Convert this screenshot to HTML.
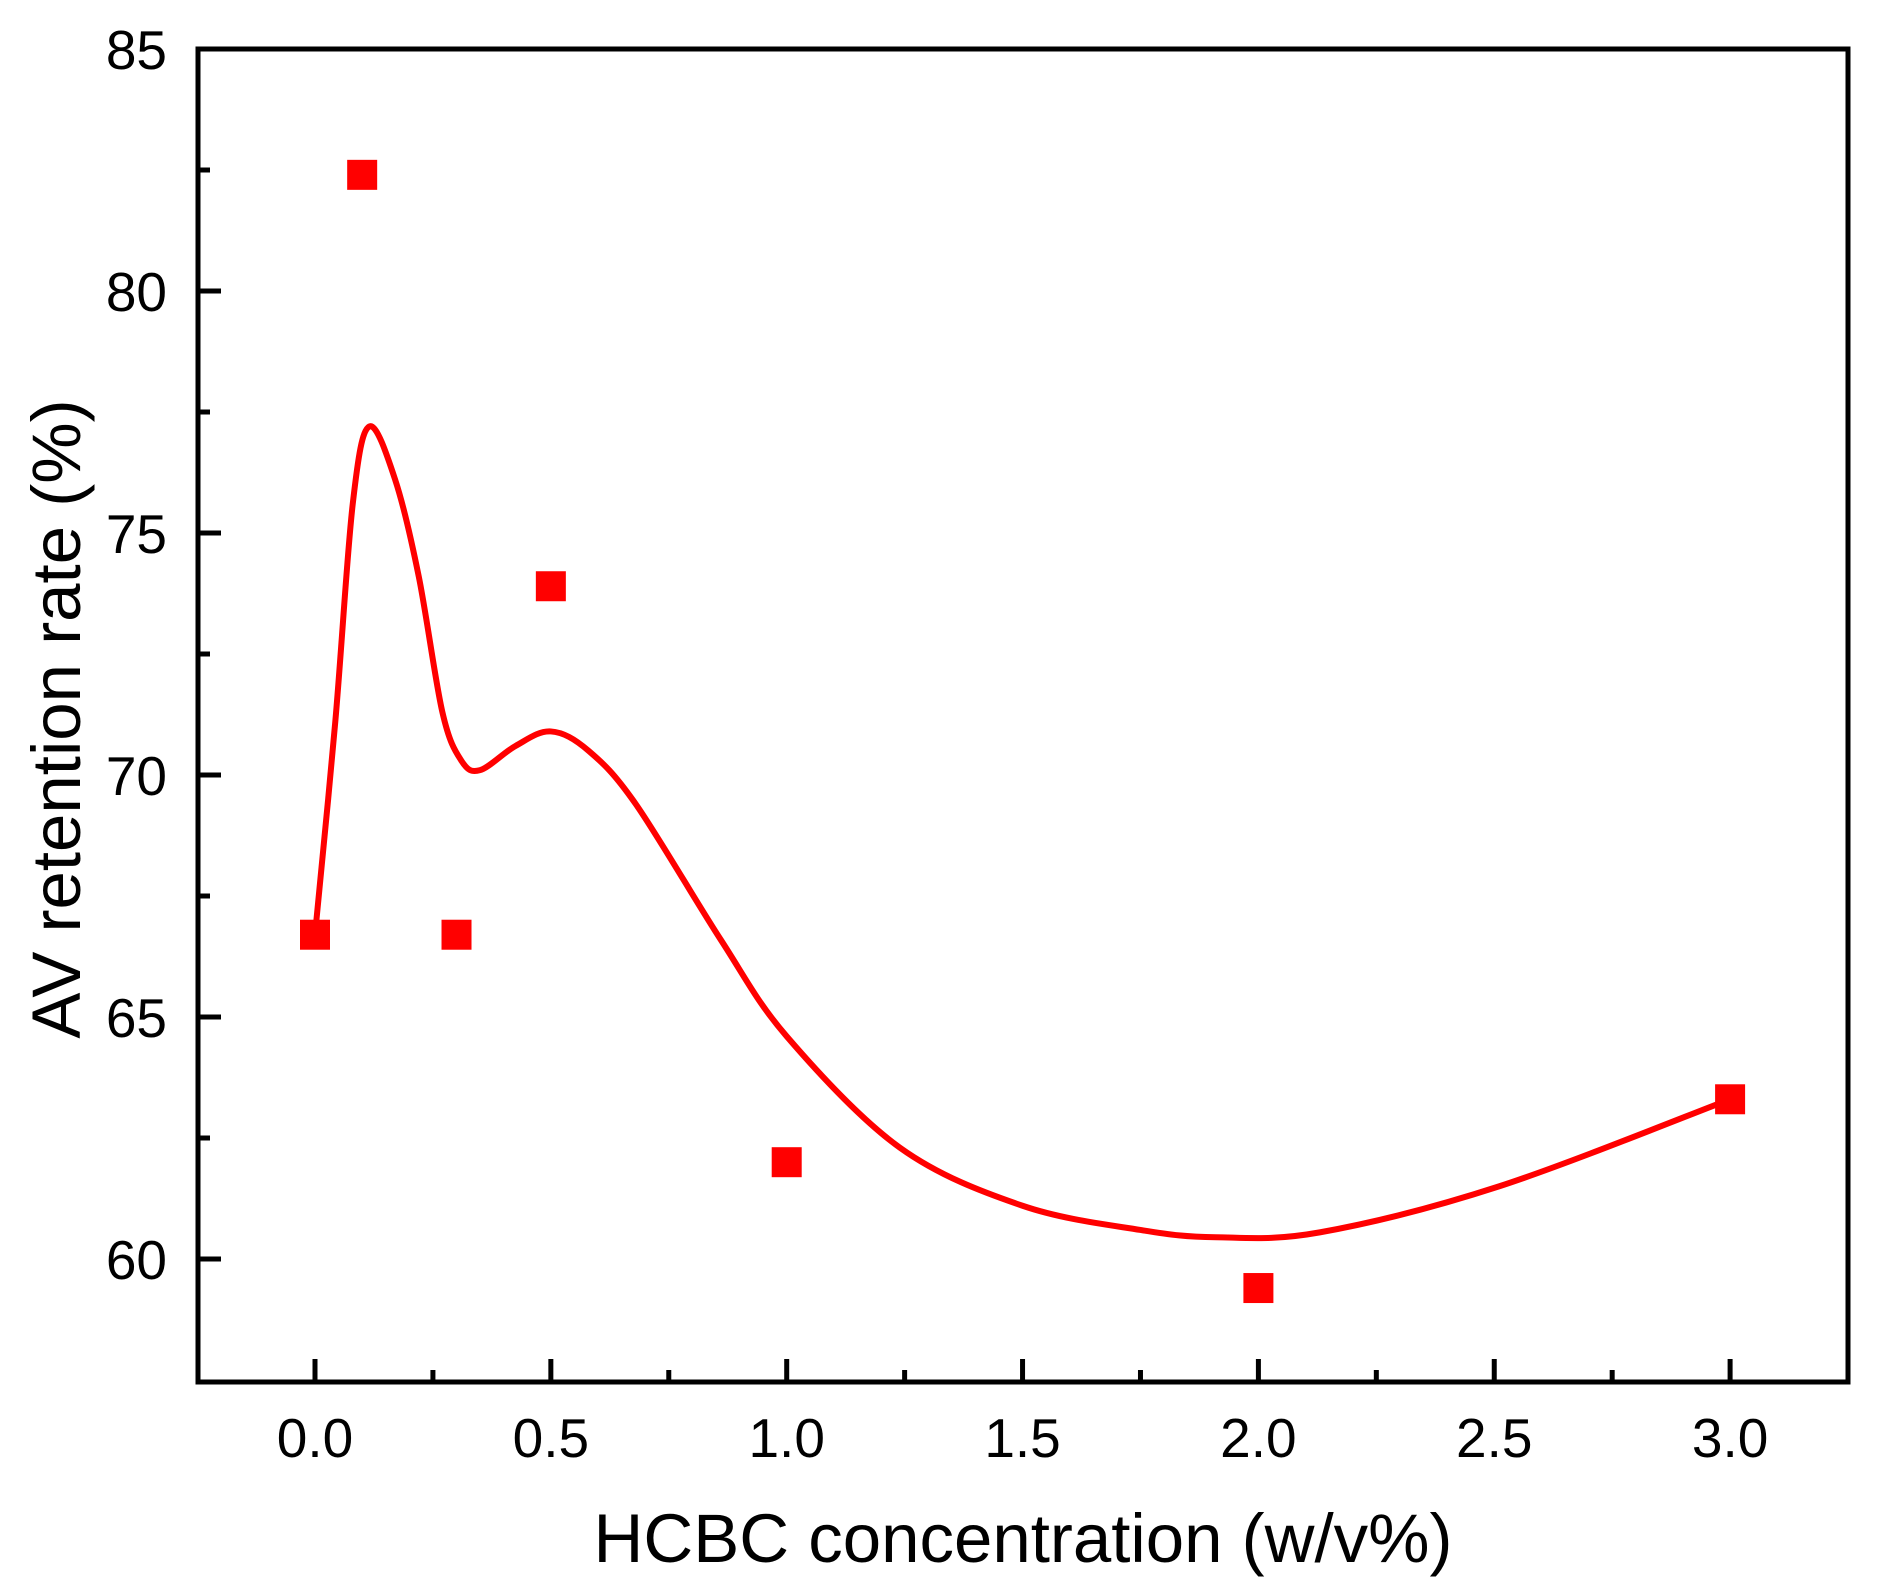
<!DOCTYPE html>
<html><head><meta charset="utf-8"><style>
html,body{margin:0;padding:0;background:#fff;}
svg{display:block;}
text{font-family:"Liberation Sans",Arial,sans-serif;fill:#000;}
</style></head><body>
<svg id="chart" width="1881" height="1593" viewBox="0 0 1881 1593" xmlns="http://www.w3.org/2000/svg">
<g id="plot"></g>
</svg>
<script>
const xTicks = [0.0, 0.5, 1.0, 1.5, 2.0, 2.5, 3.0];
const xTickLabels = ["0.0","0.5","1.0","1.5","2.0","2.5","3.0"];
const yTicks = [60, 65, 70, 75, 80, 85];
const yTickLabels = ["60","65","70","75","80","85"];
const pointX = [0, 0.1, 0.3, 0.5, 1.0, 2.0, 3.0];
const pointY = [66.7, 82.4, 66.7, 73.9, 62.0, 59.4, 63.3];
const curveX = [0, 0.043, 0.08, 0.115, 0.17, 0.22, 0.27, 0.31, 0.35, 0.425, 0.5, 0.58, 0.68, 0.86, 1.0, 1.24, 1.5, 1.75, 1.91, 2.13, 2.51, 3.0];
const curveY = [66.7, 71.1, 75.6, 77.2, 76.1, 74.1, 71.3, 70.3, 70.1, 70.6, 70.9, 70.5, 69.4, 66.6, 64.6, 62.3, 61.1, 60.6, 60.45, 60.55, 61.5, 63.3];

const L=198,R=1848,T=49,B=1382;
const yMin=57.5,yMax=85;
function sx(v){return 315+(v-0)*471.7;}
function sy(v){return 49+(85-v)*48.4;}
const NS="http://www.w3.org/2000/svg";
const g=document.getElementById('plot');
function mk(tag,attrs,parent){const e=document.createElementNS(NS,tag);for(const k in attrs)e.setAttribute(k,attrs[k]);(parent||g).appendChild(e);return e;}
const SW=5;
xTicks.forEach((v,i)=>{
  const t=mk('line',{x1:sx(v),x2:sx(v),y1:B,y2:B-23,stroke:'#000','stroke-width':SW});
  
  
  if(i<xTicks.length-1){
    const m=mk('line',{x1:sx(v+0.25),x2:sx(v+0.25),y1:B,y2:B-12,stroke:'#000','stroke-width':SW});
    
    
  }
  const tx=mk('text',{x:sx(v),y:1457,'text-anchor':'middle','font-size':55});
  tx.textContent=xTickLabels[i];
  
  
});
yTicks.forEach((v,i)=>{
  const t=mk('line',{x1:L,x2:L+23,y1:sy(v),y2:sy(v),stroke:'#000','stroke-width':SW});
  
  
  if(v+2.5<yMax){
    const m=mk('line',{x1:L,x2:L+12,y1:sy(v+2.5),y2:sy(v+2.5),stroke:'#000','stroke-width':SW});
    
    
  }
  const tx=mk('text',{x:167,y:sy(v)+20,'text-anchor':'end','font-size':55});
  tx.textContent=yTickLabels[i];
  
  
});

let pts=curveX.map((x,i)=>[sx(x),sy(curveY[i])]);
let d='M'+pts[0][0]+','+pts[0][1];
for(let i=0;i<pts.length-1;i++){
  const p0=pts[Math.max(0,i-1)],p1=pts[i],p2=pts[i+1],p3=pts[Math.min(pts.length-1,i+2)];
  const c1=[p1[0]+(p2[0]-p0[0])/6,p1[1]+(p2[1]-p0[1])/6];
  const c2=[p2[0]-(p3[0]-p1[0])/6,p2[1]-(p3[1]-p1[1])/6];
  d+=' C'+c1[0]+','+c1[1]+' '+c2[0]+','+c2[1]+' '+p2[0]+','+p2[1];
}
const curve=mk('path',{d:d,fill:'none',stroke:'#ff0000','stroke-width':6,'stroke-linejoin':'round'});



pointX.forEach((x,i)=>{
  const r=mk('rect',{x:sx(x)-15,y:sy(pointY[i])-15,width:30,height:30,fill:'#ff0000'});
  
  
});

const fr=mk('rect',{x:L,y:T,width:R-L,height:B-T,fill:'none',stroke:'#000','stroke-width':SW});



const xt=mk('text',{x:(L+R)/2,y:1562,'text-anchor':'middle','font-size':69});
xt.textContent='HCBC concentration (w/v%)';


const yt=mk('text',{x:0,y:0,'text-anchor':'middle','font-size':69,transform:'translate(80,719) rotate(-90)'});
yt.textContent='AV retention rate (%)';


</script>
</body></html>
